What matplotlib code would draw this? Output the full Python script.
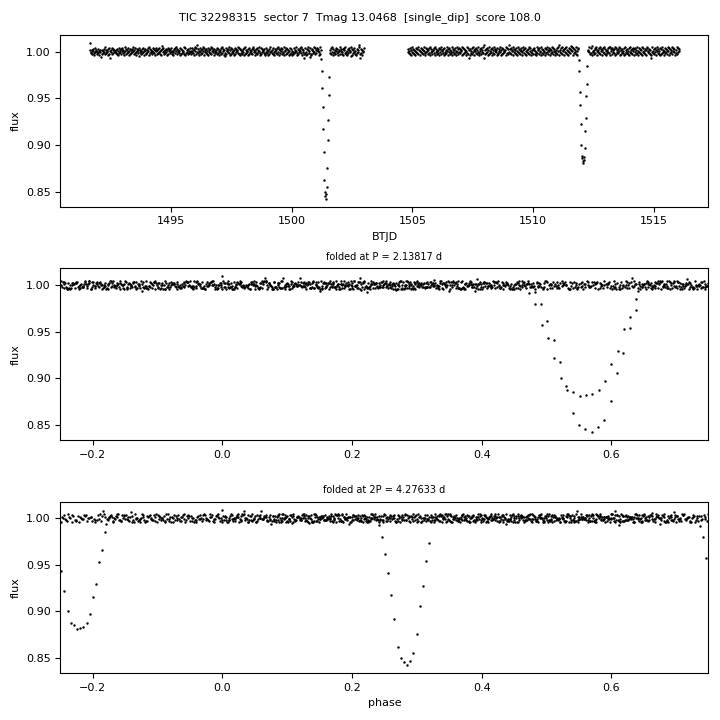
import numpy as np
import matplotlib
matplotlib.use("Agg")
import matplotlib.pyplot as plt

tic = "32298315"
sector = 7
tmag = 13.0468
flag = "single_dip"
score = 108.0
period = 2.138166

cadence = 0.0208333  # 30 min FFI
seg_start = [1491.64, 1504.812]

# out-of-dip scatter, one digit per cadence, in steps of noise_step around 1
seg1_noise = (
    "56342675134856247315648263574926354718253648273564"
    "43627158364725836149572634851726374956283417563824"
    "65273841567326485917364528473615826374852163748526"
    "37461825736485214763859274635182736452918364725384"
    "52846371958264731548627395184637251846372958461735"
    "46283715642839576143826574931628475361827456392817"
    "63527481926354718264537289461537284695132847563721"
    "48365127495368214756382947163582743916528374615283"
    "75142836495317264853917462538147296358412673594826"
    "36857142963528417365928471536284917346258374165927"
    "542718639425173864529173648251736495827361458"
)
seg2_noise = (
    "47352816493726158473926518437265913847526381947526"
    "63819475263817492653718426395174826359174628351947"
    "28473659128374651938264715382946175382649137582643"
    "95162738461925374816392574618237594618273546193827"
    "41738265914736825194736258419637285146379258416372"
    "86254193762845193726458173946285173649285714638295"
    "17463829561748392651847362958173642951873462918574"
    "62948317564928371546283975146382957164839275163849"
    "39175284637192846375918264735182946375281946372851"
    "74826391548372619485372619845372618495372846195372"
    "5182739465183746295817364928574163928475"
)
noise_step = 0.0011

# isolated outliers
spike_time = [1491.64, 1492.10, 1492.48, 1493.68, 1494.61, 1496.06,
              1497.23, 1500.52, 1500.77, 1502.45, 1502.79, 1502.81,
              1507.35, 1507.95, 1507.97, 1509.00, 1511.09, 1511.59,
              1512.42, 1514.90]
spike_flux = [1.0095, 0.9950, 0.9940, 0.9957, 1.0065, 1.0075,
              0.9957, 0.9940, 0.9950, 0.9960, 1.0075, 0.9930,
              0.9940, 1.0075, 0.9940, 1.0075, 1.0075, 1.0060,
              1.0065, 0.9940]

# primary (deeper) eclipse
dip1_start = 1501.223
dip1_flux = [0.9928, 0.9796, 0.9617, 0.9410, 0.9175, 0.8921, 0.8621,
             0.8499, 0.8457, 0.8420, 0.8471, 0.8553, 0.8757, 0.9057,
             0.9271, 0.9539, 0.9732]
# secondary eclipse
dip2_start = 1511.889
dip2_flux = [0.9917, 0.9796, 0.9571, 0.9435, 0.9221, 0.9003, 0.8878,
             0.8856, 0.8810, 0.8824, 0.8835, 0.8875, 0.8971, 0.9153,
             0.9293, 0.9528, 0.9660, 0.9850]


def build_lc():
    times, fluxes = [], []
    for start, code in zip(seg_start, [seg1_noise, seg2_noise]):
        t = start + cadence * np.arange(len(code))
        f = 1.0 + noise_step * (np.array([int(c) for c in code]) - 4.5)
        times.append(t)
        fluxes.append(f)
    t = np.concatenate(times)
    f = np.concatenate(fluxes)
    for ts, fs in zip(spike_time, spike_flux):
        f[np.abs(t - ts).argmin()] = fs
    for d0, dflux in [(dip1_start, dip1_flux), (dip2_start, dip2_flux)]:
        i = np.searchsorted(t, d0)
        f[i:i + len(dflux)] = dflux
    return t, f


def fold(t, p):
    ph = ((t - t.min()) / p) % 1.0
    ph[ph >= 0.75] -= 1.0
    return ph


t, f = build_lc()

fig, axes = plt.subplots(3, 1, figsize=(7.2, 7.2), dpi=100)
fig.subplots_adjust(left=0.084, right=0.984, top=0.951, bottom=0.065, hspace=0.36)

fs = 8
ms = 1.5

ax = axes[0]
ax.plot(t, f, 'k.', ms=ms)
ax.set_xlabel("BTJD", fontsize=fs)
ax.set_ylabel("flux", fontsize=fs)

ax = axes[1]
ax.plot(fold(t, period), f, 'k.', ms=ms)
ax.set_xlim(-0.25, 0.75)
ax.set_title(f"folded at P = {period:.5f} d", fontsize=7)
ax.set_ylabel("flux", fontsize=fs)

ax = axes[2]
ax.plot(fold(t, 2 * period), f, 'k.', ms=ms)
ax.set_xlim(-0.25, 0.75)
ax.set_title(f"folded at 2P = {2 * period:.5f} d", fontsize=7)
ax.set_xlabel("phase", fontsize=fs)
ax.set_ylabel("flux", fontsize=fs)

for ax in axes:
    ax.tick_params(labelsize=fs)

fig.suptitle(f"TIC {tic}  sector {sector}  Tmag {tmag}  [{flag}]  score {score}",
             fontsize=8, y=0.983)

fig.savefig("out.png", dpi=100)
